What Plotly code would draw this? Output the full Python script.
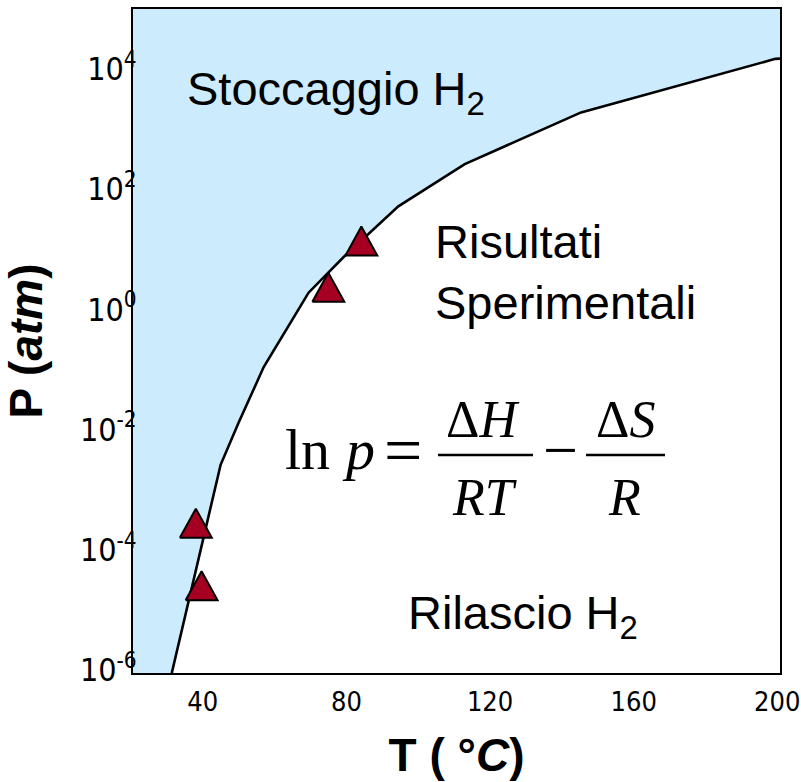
import plotly.graph_objects as go

# Equilibrium boundary between storage and release regions
curve_T = [30.8, 41.6, 44.4, 49.4, 56.4, 66.1, 68.9, 78.6, 88.3, 93.9, 112.4, 144.8, 198.9, 200.5]
curve_P = [8.9e-7, 5.0e-4, 2.6e-3, 1.3e-2, 1.1e-1, 1.0, 1.9, 7.4, 25, 52, 263, 1900, 1.48e4, 1.5e4]

# Experimental results
exp_T = [37.5, 39.1, 74.4, 83.6]
exp_P = [2.3e-4, 2.1e-5, 1.95, 11.4]

x_ticks = [40, 80, 120, 160, 200]
y_ticks = [1e-6, 1e-4, 1e-2, 1e0, 1e2, 1e4]
y_ticktext = ["10<sup>-6</sup>", "10<sup>-4</sup>", "10<sup>-2</sup>",
              "10<sup>0</sup>", "10<sup>2</sup>", "10<sup>4</sup>"]

X_RANGE = [20, 200.2]
Y_RANGE = [-6.05, 5.0]

STORE_BLUE = "#CCEBFC"
MARK_RED = "#A50021"
SANS = "Liberation Sans, Arial, sans-serif"
NARROW = "Liberation Sans Narrow, Arial Narrow, DejaVu Sans Condensed, sans-serif"
SERIF = "Liberation Serif, Times New Roman, serif"

W, H = 801, 782
ML, MR, MT, MB = 133, 21, 9, 109
PW, PH = W - ML - MR, H - MT - MB


def px(x):
    return (x - ML) / PW


def py(y):
    return (H - MB - y) / PH


fig = go.Figure()

# storage region: everything above/left of the boundary
top = 10 ** (Y_RANGE[1] + 0.5)
fill_x = [X_RANGE[0]] + curve_T + [X_RANGE[1] + 5, X_RANGE[0] - 5, X_RANGE[0]]
fill_y = [curve_P[0]] + curve_P + [top, top, curve_P[0]]
fig.add_trace(go.Scatter(x=fill_x, y=fill_y, mode="lines", fill="toself",
                         fillcolor=STORE_BLUE, line=dict(width=0),
                         hoverinfo="skip", showlegend=False))

fig.add_trace(go.Scatter(x=curve_T, y=curve_P, mode="lines",
                         line=dict(color="black", width=2.6),
                         showlegend=False))

# experimental points drawn as triangles centred on each value
half_w = 4.45          # half base width, in degrees C
up, down = 10 ** 0.322, 10 ** -0.161
tri_x, tri_y = [], []
for t, p in zip(exp_T, exp_P):
    tri_x += [t - half_w, t + half_w, t, t - half_w, None]
    tri_y += [p * down, p * down, p * up, p * down, None]
fig.add_trace(go.Scatter(x=tri_x, y=tri_y, mode="lines", fill="toself",
                         fillcolor=MARK_RED, line=dict(color="black", width=2),
                         showlegend=False))

axis_common = dict(showline=True, mirror=True, linecolor="black", linewidth=2,
                   showgrid=False, zeroline=False, ticks="", automargin=False)

fig.update_layout(
    width=W, height=H,
    margin=dict(l=ML, r=MR, t=MT, b=MB, pad=0, autoexpand=False),
    paper_bgcolor="white", plot_bgcolor="white",
    xaxis=dict(range=X_RANGE, tickvals=x_ticks, ticklabelstandoff=4,
               ticklabeloverflow="allow", ticklabelshift=-2,
               tickfont=dict(family=NARROW, size=27, color="black"),
               title=dict(text="T ( °<i>C</i>)", standoff=22,
                          font=dict(family=SANS, size=46, color="black", weight="bold")),
               **axis_common),
    yaxis=dict(type="log", range=Y_RANGE, tickvals=y_ticks, ticktext=y_ticktext,
               ticklabelstandoff=-12, ticklabeloverflow="allow",
               tickfont=dict(family=NARROW, size=32, color="black"),
               title=dict(text="P (<i>atm</i>)", standoff=30,
                          font=dict(family=SANS, size=46, color="black", weight="bold")),
               **axis_common),
)

ann = []


def label(text, x, y, size, family=SANS, xanchor="left", yanchor="middle", align="left"):
    ann.append(dict(text=text, x=px(x), y=py(y), xref="paper", yref="paper",
                    xanchor=xanchor, yanchor=yanchor, align=align, showarrow=False,
                    font=dict(family=family, size=size, color="black")))


label("Stoccaggio H<sub>2</sub>", 185, 92, 47)
label("Risultati<br>Sperimentali", 433, 272, 47)
label("Rilascio H<sub>2</sub>", 406, 616, 47)

# ln p = ΔH/RT − ΔS/R
label("ln", 283, 449, 58, family=SERIF)
label("<i>p</i>", 340, 449, 58, family=SERIF)
label("=", 403, 450, 68, family=SERIF, xanchor="center")
label("Δ<i>H</i>", 482, 420, 52, family=SERIF, xanchor="center")
label("<i>RT</i>", 484, 497, 52, family=SERIF, xanchor="center")
label("−", 560, 450, 62, family=SERIF, xanchor="center")
label("Δ<i>S</i>", 625, 420, 52, family=SERIF, xanchor="center")
label("<i>R</i>", 624, 497, 52, family=SERIF, xanchor="center")

fig.update_layout(annotations=ann)

# fraction bars
for x0, x1 in [(438, 533), (586, 665)]:
    fig.add_shape(type="line", xref="paper", yref="paper",
                  x0=px(x0), x1=px(x1), y0=py(455), y1=py(455),
                  line=dict(color="black", width=2.5))

fig.write_html("out.html")
